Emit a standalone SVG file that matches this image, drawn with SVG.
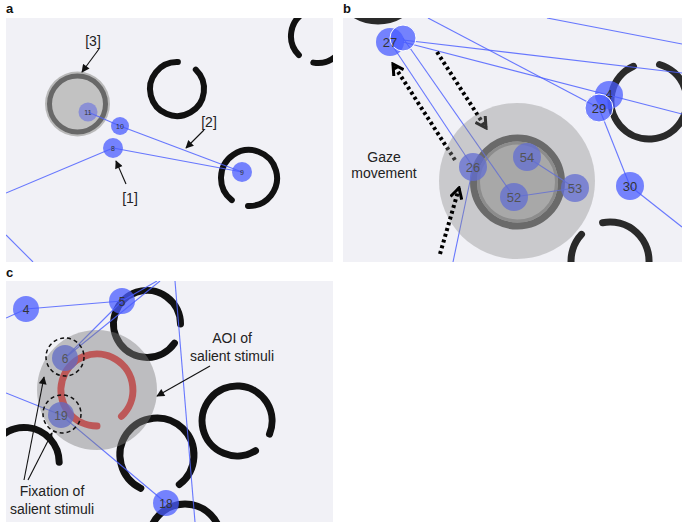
<svg xmlns="http://www.w3.org/2000/svg" width="686" height="525" viewBox="0 0 686 525">
<style>
.bg{fill:#f1f1f6}
.lbl{font-family:"Liberation Sans",Arial,sans-serif;font-weight:bold;font-size:13px;fill:#111}
.txt{font-family:"Liberation Sans",Arial,sans-serif;font-size:14px;fill:#222}
.ring{fill:none;stroke:#111;stroke-width:6;stroke-linecap:round}
.ringb{fill:none;stroke:#2a2a2a;stroke-width:7;stroke-linecap:round}
.ringc{fill:none;stroke:#111;stroke-width:7;stroke-linecap:round}
.fix{fill:#4a5cff;fill-opacity:0.75}
.fixw{fill:#4a5cff;fill-opacity:0.75;stroke:#fff;stroke-width:1}
.gl{stroke:#4f62ff;stroke-width:1.1;stroke-opacity:0.85;fill:none}
.num{font-family:"Liberation Sans",Arial,sans-serif;fill:#333;text-anchor:middle}
.arr{stroke:#111;stroke-width:1.1;fill:none;marker-end:url(#ah)}
.dot{stroke:#000;stroke-width:4;stroke-dasharray:3 3;fill:none;marker-end:url(#ch)}
</style>
<defs>
<marker id="ah" viewBox="0 0 10 10" refX="9" refY="5" markerWidth="9" markerHeight="8" markerUnits="userSpaceOnUse" orient="auto"><path d="M0,0 L10,5 L0,10 z" fill="#111"/></marker>
<marker id="ch" viewBox="0 0 12 12" refX="10" refY="6" markerWidth="14" markerHeight="14" markerUnits="userSpaceOnUse" orient="auto"><path d="M1,1 L10,6 L1,11" fill="none" stroke="#000" stroke-width="2.6"/></marker>
<clipPath id="cA"><rect x="6" y="18" width="327" height="244"/></clipPath>
<clipPath id="cB"><rect x="343" y="18" width="339" height="244"/></clipPath>
<clipPath id="cC"><rect x="6" y="281" width="327" height="241"/></clipPath>
</defs>

<!-- Panel a -->
<g id="panel-a">
<text class="lbl" x="6" y="13">a</text>
<rect class="bg" x="6" y="18" width="327" height="244"/>
<g clip-path="url(#cA)">
<path class="ring" d="M195.8,69.6 A27,27 0 1 1 177.9,62.0"/>
<path class="ring" d="M298.9,55.1 A27,27 0 1 1 313.3,62.6"/>
<path class="ring" d="M231.8,200.1 A28,28 0 1 1 248.0,206.0"/>
<g id="aoi-3">
<circle cx="77.5" cy="104" r="32.5" fill="#b9b9b9"/>
<circle cx="77.5" cy="104" r="28" fill="#c2c2c2" stroke="#686868" stroke-width="5"/>
</g>
<g id="a-connectors">
<line class="gl" x1="88" y1="112" x2="120" y2="126"/>
<line class="gl" x1="120" y1="126" x2="242" y2="172"/>
<line class="gl" x1="113" y1="148" x2="242" y2="172"/>
<line class="gl" x1="6" y1="193" x2="113" y2="148"/>
<line class="gl" x1="6" y1="235" x2="33" y2="262"/>
</g>
<g id="fix-11"><circle cx="88" cy="112" r="9.5" fill="#5f67e6" fill-opacity="0.55"/><text class="num" x="88" y="114.5" font-size="7">11</text></g>
<g id="fix-10"><circle class="fix" cx="120" cy="126" r="9"/><text class="num" x="120" y="128.5" font-size="7">10</text></g>
<g id="fix-8"><circle class="fix" cx="113" cy="148" r="10"/><text class="num" x="113" y="150.5" font-size="7">8</text></g>
<g id="fix-9"><circle class="fix" cx="242" cy="172" r="10"/><text class="num" x="242" y="174.5" font-size="7">9</text></g>
</g>
<g id="a-labels">
<text class="txt" x="93" y="46" text-anchor="middle">[3]</text>
<line class="arr" x1="99" y1="49" x2="82" y2="72"/>
<text class="txt" x="209" y="127" text-anchor="middle">[2]</text>
<line class="arr" x1="204" y1="130" x2="186" y2="148"/>
<text class="txt" x="130" y="203" text-anchor="middle">[1]</text>
<line class="arr" x1="126" y1="184" x2="116" y2="161"/>
</g>
</g>

<!-- Panel b -->
<g id="panel-b">
<text class="lbl" x="343" y="13">b</text>
<rect class="bg" x="343" y="18" width="339" height="244"/>
<g clip-path="url(#cB)">
<circle class="ringb" cx="378" cy="-23" r="44" stroke-width="8"/>
<path class="ringb" d="M659.5,64.5 A38,38 0 1 1 633.5,66.3"/>
<path class="ringb" d="M602.6,222.7 A39,39 0 1 1 581.5,234.4"/>
<g id="aoi-b-ring">
<circle cx="517.5" cy="182" r="44" fill="#bcbcbc" stroke="#585858" stroke-width="7"/>
<circle cx="517.5" cy="182" r="39" fill="none" stroke="#8e8e8e" stroke-width="3"/>
</g>
<g id="b-connectors">
<line class="gl" x1="428" y1="18" x2="599" y2="108"/>
<line class="gl" x1="403" y1="40" x2="682" y2="73"/>
<line class="gl" x1="403" y1="42" x2="682" y2="114"/>
<line class="gl" x1="547" y1="18" x2="682" y2="44"/>
<line class="gl" x1="599" y1="108" x2="630" y2="186"/>
<line class="gl" x1="630" y1="186" x2="682" y2="227"/>
<line class="gl" x1="390" y1="42" x2="473" y2="167"/>
<line class="gl" x1="403" y1="38" x2="514" y2="197"/>
<line class="gl" x1="473" y1="167" x2="453" y2="262"/>
<line class="gl" x1="527" y1="157" x2="575" y2="188"/>
<line class="gl" x1="514" y1="197" x2="575" y2="188"/>
</g>
<g id="fix-27"><circle class="fix" cx="390" cy="42" r="14"/><circle class="fixw" cx="403" cy="38" r="13"/><text class="num" x="390" y="47" font-size="13">27</text></g>
<g id="fix-4b"><circle class="fix" cx="609" cy="95" r="14"/><text class="num" x="609" y="99" font-size="13">4</text></g>
<g id="fix-29"><circle class="fixw" cx="599" cy="108" r="14"/><text class="num" x="599" y="113" font-size="13">29</text></g>
<g id="fix-30"><circle class="fix" cx="630" cy="186" r="14"/><text class="num" x="630" y="191" font-size="13">30</text></g>
<g id="fix-26"><circle class="fix" cx="473" cy="167" r="14"/><text class="num" x="473" y="172" font-size="13">26</text></g>
<g id="fix-54"><circle class="fix" cx="527" cy="157" r="14"/><text class="num" x="527" y="162" font-size="13">54</text></g>
<g id="fix-53"><circle class="fix" cx="575" cy="188" r="14"/><text class="num" x="575" y="193" font-size="13">53</text></g>
<g id="fix-52"><circle class="fix" cx="514" cy="197" r="14"/><text class="num" x="514" y="202" font-size="13">52</text></g>
<g id="gaze-arrows-under">
<line class="dot" x1="455" y1="160" x2="393" y2="64"/>
<line class="dot" x1="437" y1="52" x2="486" y2="128"/>
</g>
<circle id="aoi-b" cx="517" cy="181" r="78" fill="#888" fill-opacity="0.38"/>
<line class="dot" x1="440" y1="254" x2="459" y2="188"/>
</g>
<text class="txt" x="384" y="162" text-anchor="middle">Gaze</text>
<text class="txt" x="384" y="178" text-anchor="middle">movement</text>
</g>

<!-- Panel c -->
<g id="panel-c">
<text class="lbl" x="6" y="277">c</text>
<rect class="bg" x="6" y="281" width="327" height="241"/>
<g clip-path="url(#cC)">
<path class="ringc" d="M174.4,343.2 A33.5,33.5 0 1 1 180.5,324"/>
<path class="ringc" d="M255.5,450.7 A35,35 0 1 1 269.5,434.1"/>
<path class="ringc" d="M140.8,488.3 A37,37 0 1 1 179.3,484.5"/>
<path class="ringc" d="M-10,455 A35,35 0 0 1 59.2,462.3"/>
<circle class="ringc" cx="185" cy="540" r="36"/>
<path d="M97,426 A36,36 0 1 1 121.5,416.3" fill="none" stroke="#f03a3a" stroke-width="7" stroke-linecap="round"/>
<g id="c-connectors">
<polyline class="gl" points="6,318 26,309 122,301"/>
<line class="gl" x1="122" y1="301" x2="157" y2="281"/>
<line class="gl" x1="65" y1="358" x2="122" y2="301"/>
<line class="gl" x1="65" y1="358" x2="160" y2="281"/>
<line class="gl" x1="175" y1="281" x2="195" y2="522"/>
<polyline class="gl" points="6,393 61,415 166,503"/>
</g>
<g id="fix-4c"><circle class="fix" cx="26" cy="309" r="13"/><text class="num" x="26" y="314" font-size="12">4</text></g>
<g id="fix-5"><circle class="fix" cx="122" cy="301" r="13"/><text class="num" x="122" y="306" font-size="12">5</text></g>
<g id="fix-6"><circle class="fix" cx="65" cy="358" r="13"/><text class="num" x="65" y="363" font-size="12">6</text></g>
<g id="fix-19"><circle class="fix" cx="61" cy="415" r="13"/><text class="num" x="61" y="420" font-size="12">19</text></g>
<g id="fix-18"><circle class="fix" cx="166" cy="503" r="13"/><text class="num" x="166" y="508" font-size="12">18</text></g>
<circle id="aoi-c" cx="97" cy="390" r="60" fill="#7f7f7f" fill-opacity="0.45"/>
<circle cx="65" cy="357" r="19" fill="none" stroke="#111" stroke-width="1.5" stroke-dasharray="4 3"/>
<circle cx="62" cy="414" r="19" fill="none" stroke="#111" stroke-width="1.5" stroke-dasharray="4 3"/>
</g>
<g id="c-labels">
<text class="txt" x="232" y="343" text-anchor="middle">AOI of</text>
<text class="txt" x="232" y="361" text-anchor="middle">salient stimuli</text>
<line class="arr" x1="210" y1="366" x2="157" y2="396"/>
<text class="txt" x="52" y="496" text-anchor="middle">Fixation of</text>
<text class="txt" x="52" y="514" text-anchor="middle">salient stimuli</text>
<line class="arr" x1="24" y1="480" x2="44" y2="377"/>
<line class="arr" x1="28" y1="480" x2="52" y2="433"/>
</g>
</g>
</svg>
